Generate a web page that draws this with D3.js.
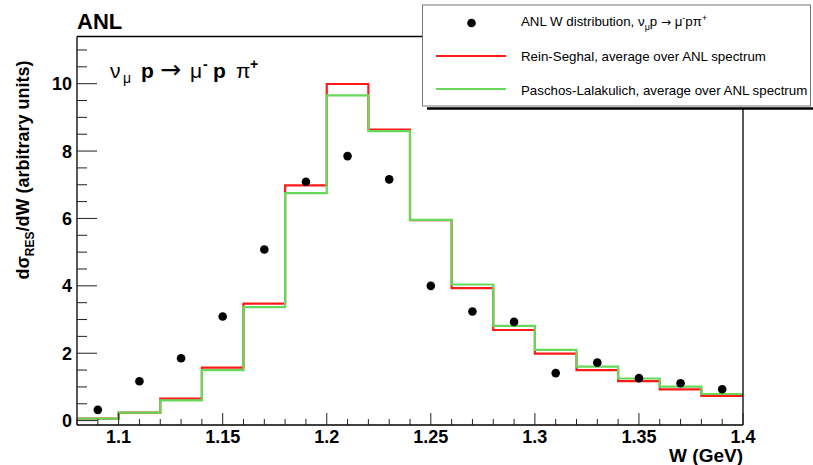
<!DOCTYPE html>
<html><head><meta charset="utf-8">
<script src="https://cdn.jsdelivr.net/npm/d3@7"></script>
<style>body{margin:0;background:#fff}svg{display:block;font-family:"Liberation Sans",Arial,sans-serif}</style>
</head><body>
<svg id="c" width="813" height="465"></svg>
<script>
const binEdges = [1.08,1.10,1.12,1.14,1.16,1.18,1.20,1.22,1.24,1.26,1.28,1.30,1.32,1.34,1.36,1.38,1.40];
const reinSeghal = [0.06,0.24,0.65,1.57,3.47,6.98,9.99,8.64,5.95,3.93,2.69,1.99,1.50,1.17,0.93,0.73];
const paschosLalakulich = [0.06,0.24,0.60,1.50,3.37,6.75,9.65,8.59,5.96,4.04,2.81,2.10,1.60,1.25,1.01,0.79];
const dataW = [1.09,1.11,1.13,1.15,1.17,1.19,1.21,1.23,1.25,1.27,1.29,1.31,1.33,1.35,1.37,1.39];
const dataY = [0.32,1.17,1.85,3.09,5.08,7.09,7.85,7.16,4.00,3.24,2.93,1.41,1.72,1.26,1.11,0.93];
const xTickLabels = ["1.1","1.15","1.2","1.25","1.3","1.35","1.4"];
const yTickLabels = ["0","2","4","6","8","10"];

const svg = d3.select("#c");
const L=77, R=743, T=36.5, B=425;
const x = d3.scaleLinear().domain([1.08,1.40]).range([L,R]);
const y = d3.scaleLinear().domain([-0.13,11.4]).range([B,T]);

function stepPath(vals){
  let p = "M"+x(binEdges[0])+","+y(vals[0]);
  vals.forEach((v,i)=>{
    if(i>0) p += "L"+x(binEdges[i])+","+y(v);
    p += "L"+x(binEdges[i+1])+","+y(v);
  });
  return p;
}
svg.append("path").attr("d",stepPath(reinSeghal)).attr("fill","none").attr("stroke","#ff1a1a").attr("stroke-width",2.2);
svg.append("path").attr("d",stepPath(paschosLalakulich)).attr("fill","none").attr("stroke","#66d95a").attr("stroke-width",2.2);

svg.selectAll("circle.d").data(dataW).enter().append("circle")
  .attr("cx",d=>x(d)).attr("cy",(d,i)=>y(dataY[i])).attr("r",4.3).attr("fill","#000");

// frame
const g = svg.append("g").attr("stroke","#000").attr("stroke-width",1.3);
g.append("line").attr("x1",L).attr("x2",L).attr("y1",T).attr("y2",B);
g.append("line").attr("x1",L).attr("x2",R).attr("y1",B).attr("y2",B);
g.append("line").attr("x1",L).attr("x2",423).attr("y1",T).attr("y2",T);
g.append("line").attr("x1",R).attr("x2",R).attr("y1",109).attr("y2",B);

// x axis ticks (inside)
const xMinor = d3.range(108,141).map(v=>v/100);
svg.selectAll("line.xt").data(xMinor).enter().append("line")
  .attr("x1",d=>x(d)).attr("x2",d=>x(d)).attr("y1",B)
  .attr("y2",d=> (Math.round(d*100)%5===0)? B-12 : B-6)
  .attr("stroke","#222").attr("stroke-width",1);
svg.selectAll("text.xl").data(xTickLabels).enter().append("text")
  .attr("x",d=>x(+d)).attr("y",443).attr("text-anchor","middle")
  .attr("font-size",18).attr("font-weight","bold").text(d=>d);

// y axis ticks
const yMinor = d3.range(0,23).map(v=>v/2);
svg.selectAll("line.yt").data(yMinor).enter().append("line")
  .attr("y1",d=>y(d)).attr("y2",d=>y(d)).attr("x1",L)
  .attr("x2",d=> (d%2===0)? L+20 : L+10)
  .attr("stroke","#222").attr("stroke-width",1);
svg.selectAll("text.yl").data(yTickLabels).enter().append("text")
  .attr("x",72).attr("y",d=>y(+d)+6.5).attr("text-anchor","end")
  .attr("font-size",18).attr("font-weight","bold").text(d=>d);

// axis titles
svg.append("text").attr("x",R).attr("y",462).attr("text-anchor","end")
  .attr("font-size",19).attr("font-weight","bold").text("W (GeV)");
const yt = svg.append("text").attr("transform","translate(29,170) rotate(-90)")
  .attr("text-anchor","middle").attr("font-size",18).attr("font-weight","bold");
yt.append("tspan").text("dσ");
yt.append("tspan").attr("font-size",12).attr("dy",5).text("RES");
yt.append("tspan").attr("dy",-5).text("/dW (arbitrary units)");

// title
svg.append("text").attr("x",77).attr("y",29).attr("font-size",22).attr("font-weight","bold").text("ANL");

// annotation
const an = svg.append("g").attr("font-size",21);
const ay = 78;
an.append("text").attr("x",110).attr("y",ay).text("ν");
an.append("text").attr("x",123).attr("y",ay+5).attr("font-size",14).text("μ");
an.append("text").attr("x",141).attr("y",ay).attr("font-weight","bold").text("p");
an.append("text").attr("x",160).attr("y",ay).attr("font-family","DejaVu Sans").attr("font-size",25).text("→");
an.append("text").attr("x",190).attr("y",ay).text("μ");
an.append("text").attr("x",203).attr("y",ay-9).attr("font-size",14).attr("font-weight","bold").text("-");
an.append("text").attr("x",213).attr("y",ay).attr("font-weight","bold").text("p");
an.append("text").attr("x",236).attr("y",ay).text("π");
an.append("text").attr("x",250).attr("y",ay-9).attr("font-size",14).attr("font-weight","bold").text("+");

// legend
const lg = svg.append("g");
lg.append("line").attr("x1",427).attr("x2",813).attr("y1",108.5).attr("y2",108.5).attr("stroke","#000").attr("stroke-width",2.5);
lg.append("rect").attr("x",422.5).attr("y",5).attr("width",388).attr("height",101).attr("fill","#fff").attr("stroke","#777").attr("stroke-width",1);
lg.append("circle").attr("cx",471.5).attr("cy",23).attr("r",4.3).attr("fill","#000");
lg.append("line").attr("x1",436).attr("x2",506).attr("y1",56).attr("y2",56).attr("stroke","#ff1a1a").attr("stroke-width",2);
lg.append("line").attr("x1",436).attr("x2",506).attr("y1",89).attr("y2",89).attr("stroke","#66d95a").attr("stroke-width",2);
const t1 = lg.append("text").attr("x",521).attr("y",26).attr("font-size",13.3);
t1.append("tspan").text("ANL W distribution, ν");
t1.append("tspan").attr("font-size",9).attr("dy",4).text("μ");
t1.append("tspan").attr("dy",-4).text("p ");
t1.append("tspan").attr("font-family","DejaVu Sans").attr("font-size",12).text("→");
t1.append("tspan").text(" μ");
t1.append("tspan").attr("font-size",9).attr("dy",-5).text("-");
t1.append("tspan").attr("dy",5).text("pπ");
t1.append("tspan").attr("font-size",9).attr("dy",-5).text("+");
lg.append("text").attr("x",521).attr("y",61).attr("font-size",13.3).text("Rein-Seghal, average over ANL spectrum");
lg.append("text").attr("x",521).attr("y",95).attr("font-size",13.3).text("Paschos-Lalakulich, average over ANL spectrum");
</script>
</body></html>
